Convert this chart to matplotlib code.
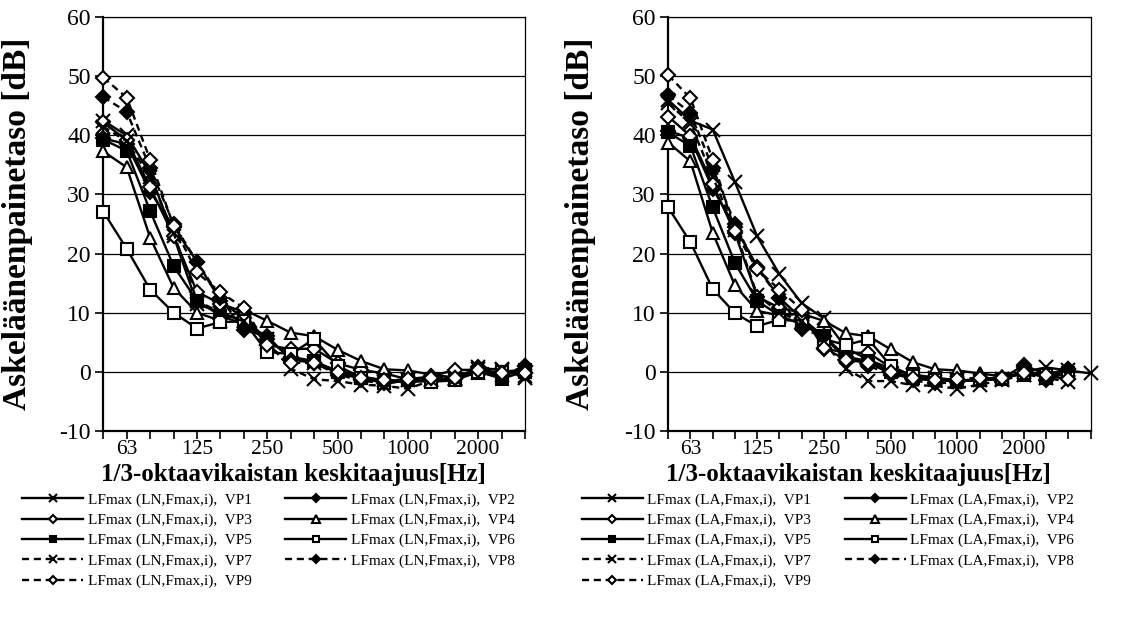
import matplotlib
matplotlib.use("Agg")
import matplotlib.pyplot as plt
import numpy as np

plt.rcParams['font.family'] = ['Liberation Serif', 'DejaVu Serif']
plt.rcParams['axes.unicode_minus'] = False

# 1/3-octave band centre frequencies
bands = ['50', '63', '80', '100', '125', '160', '200', '250', '315', '400',
         '500', '630', '800', '1000', '1250', '1600', '2000', '2500', '3150', '4000']
shown = ['63', '125', '250', '500', '1000', '2000']

# LN,Fmax,i (left panel), 50 ... 3150 Hz
ln_vp1 = [42.5, 40.0, 33.5, 23.0, 11.5, 10.0, 8.5, 5.5, 2.5, 1.5, 0.2, -0.8, -1.5, -1.5, -1.5, -1.2, 0.5, 0.4, -0.8]
ln_vp2 = [39.5, 38.5, 30.5, 24.5, 18.6, 12.0, 9.0, 5.5, 2.5, 1.5, -0.2, -1.2, -1.5, -1.8, -1.5, -1.3, 0.8, -0.8, 0.9]
ln_vp3 = [42.2, 39.2, 31.2, 23.0, 13.5, 11.5, 10.1, 4.5, 3.8, 3.9, 1.4, 0.3, -0.3, -1.3, -0.8, 0.3, 0.3, -0.3, -0.3]
ln_vp4 = [37.3, 34.6, 22.7, 14.2, 10.0, 8.6, 10.5, 8.6, 6.6, 6.0, 3.7, 1.8, 0.4, 0.2, -0.5, -1.0, -0.3, -0.5, 0.2]
ln_vp5 = [39.3, 37.4, 27.2, 17.9, 12.0, 9.5, 8.0, 5.5, 2.5, 1.8, 0.0, -1.0, -1.5, -1.5, -1.5, -1.2, 0.0, -1.2, 0.0]
ln_vp6 = [27.1, 20.8, 13.9, 10.0, 7.3, 8.4, 8.5, 3.3, 3.0, 5.5, 1.0, -1.0, -2.0, -1.5, -1.7, -1.5, 0.0, 0.0, 0.3]
ln_vp7 = [41.5, 39.0, 33.0, 23.5, 12.0, 10.0, 8.5, 5.0, 0.5, -1.3, -1.6, -2.2, -2.4, -2.9, -1.5, -1.2, 0.8, 0.3, -1.0]
ln_vp8 = [46.5, 44.0, 34.5, 25.0, 18.6, 12.5, 7.0, 6.0, 2.0, 1.5, -0.5, -1.5, -2.0, -1.5, -1.0, -1.0, 0.5, -0.5, 0.9]
ln_vp9 = [49.8, 46.4, 35.9, 24.7, 16.8, 13.4, 10.8, 4.5, 1.5, 1.5, 0.0, -1.0, -1.5, -1.3, -1.0, -1.0, 0.3, -0.3, -0.3]

# LA,Fmax,i (right panel), 50 ... 4000 Hz (only VP1 has 4000 Hz)
la_vp1 = [46.0, 42.5, 41.0, 32.1, 22.9, 16.5, 11.6, 9.0, 4.0, 2.0, 0.5, -0.5, -1.0, -1.5, -1.5, -1.2, 0.0, 0.7, 0.2, -0.3]
la_vp2 = [40.8, 39.5, 31.0, 24.5, 17.8, 12.5, 9.0, 6.0, 2.5, 1.5, -0.3, -1.2, -1.5, -1.5, -1.3, -1.2, 1.1, -0.5, 0.5]
la_vp3 = [43.2, 39.9, 31.7, 23.5, 12.7, 10.8, 10.0, 3.9, 3.2, 3.2, 0.7, -0.7, -1.2, -1.6, -1.3, -1.0, -0.3, -0.8, -1.2]
la_vp4 = [38.8, 35.6, 23.5, 14.6, 10.3, 9.5, 9.8, 8.6, 6.5, 6.0, 3.8, 1.6, 0.4, 0.2, -0.3, -0.8, -0.5, -0.5, 0.0]
la_vp5 = [40.5, 38.2, 27.8, 18.4, 12.0, 9.5, 8.0, 6.0, 2.5, 1.8, 0.0, -1.0, -1.3, -1.5, -1.5, -1.2, 0.0, -1.0, -0.3]
la_vp6 = [27.8, 21.9, 14.0, 9.9, 7.7, 8.8, 8.5, 5.5, 4.5, 5.5, 1.0, -0.8, -1.5, -1.5, -1.5, -1.2, -0.3, -0.5, -0.3]
la_vp7 = [45.5, 42.0, 33.0, 24.0, 13.0, 10.0, 8.5, 5.0, 0.4, -1.6, -1.6, -2.3, -2.4, -2.9, -2.2, -1.5, -0.5, -1.0, -1.8]
la_vp8 = [46.8, 43.8, 34.5, 25.0, 17.5, 12.5, 7.2, 6.0, 2.0, 1.0, -0.5, -1.5, -2.0, -1.8, -1.2, -1.0, 0.8, -1.5, 0.5]
la_vp9 = [50.2, 46.3, 35.9, 23.8, 17.3, 13.9, 10.5, 4.0, 2.0, 1.5, 0.0, -1.0, -1.5, -1.3, -1.0, -1.0, -0.3, -0.5, -1.2]

ln_series = [ln_vp1, ln_vp2, ln_vp3, ln_vp4, ln_vp5, ln_vp6, ln_vp7, ln_vp8, ln_vp9]
la_series = [la_vp1, la_vp2, la_vp3, la_vp4, la_vp5, la_vp6, la_vp7, la_vp8, la_vp9]

# marker, filled?, dashed?
styles = [('x', True, False), ('D', True, False), ('D', False, False),
          ('^', False, False), ('s', True, False), ('s', False, False),
          ('x', True, True), ('D', True, True), ('D', False, True)]
msizes = {'x': 10, 'D': 7.5, '^': 9, 's': 8}


def draw(ax, series, tag, nbands, legx, ylab_x):
    handles = []
    for i, (vals, (mk, filled, dashed)) in enumerate(zip(series, styles)):
        x = np.arange(len(vals))
        ls = (0, (3, 2)) if dashed else '-'
        h, = ax.plot(x, vals, color='black', lw=1.7, ls=ls, marker=mk,
                     ms=msizes[mk], mew=1.5, mec='black',
                     mfc='black' if filled else 'white',
                     label='LFmax (%s,Fmax,i),  VP%d' % (tag, i + 1),
                     clip_on=False, zorder=3 + i)
        handles.append(h)
    ax.set_xlim(0, nbands - 1)
    ax.set_ylim(-10, 60)
    ax.set_yticks(range(-10, 61, 10))
    ax.set_xticks(range(nbands))
    ax.set_xticklabels([b if b in shown else '' for b in bands[:nbands]])
    ax.grid(axis='y', color='black', lw=0.9)
    ax.set_axisbelow(True)
    ax.tick_params(direction='out', length=5.5, width=1.2, labelsize=17, colors='black')
    ax.tick_params(axis='x', pad=1, labelsize=15.5)
    for s in ax.spines.values():
        s.set_color('black')
        s.set_linewidth(0.9)
    ax.spines['left'].set_linewidth(1.6)
    ax.spines['bottom'].set_linewidth(1.6)
    ax.set_ylabel('Askeläänenpainetaso [dB]', fontsize=24, fontweight='bold')
    ax.set_xlabel('1/3-oktaavikaistan keskitaajuus[Hz]', fontsize=18, fontweight='bold')
    ax.yaxis.set_label_coords(ylab_x, 0.5)
    ax.xaxis.set_label_coords(0.45, -0.078)
    order = [0, 2, 4, 6, 8, 1, 3, 5, 7]
    ax.legend([handles[k] for k in order], [handles[k].get_label() for k in order],
              ncol=2, loc='upper left', bbox_to_anchor=(legx, 0.226),
              bbox_transform=ax.figure.transFigure, frameon=False,
              fontsize=11, handlelength=4, handletextpad=0.3, columnspacing=2.2,
              labelspacing=0.42, borderpad=0, borderaxespad=0, markerscale=0.6)


fig = plt.figure(figsize=(11.25, 6.37), dpi=100)
ax1 = fig.add_axes([0.0918, 0.3239, 0.3749, 0.6489])
ax2 = fig.add_axes([0.594, 0.3239, 0.3755, 0.6489])
draw(ax1, ln_series, 'LN', 19, 0.0196, -0.166)
draw(ax2, la_series, 'LA', 20, 0.517, -0.171)

fig.savefig('out.png', dpi=100)
